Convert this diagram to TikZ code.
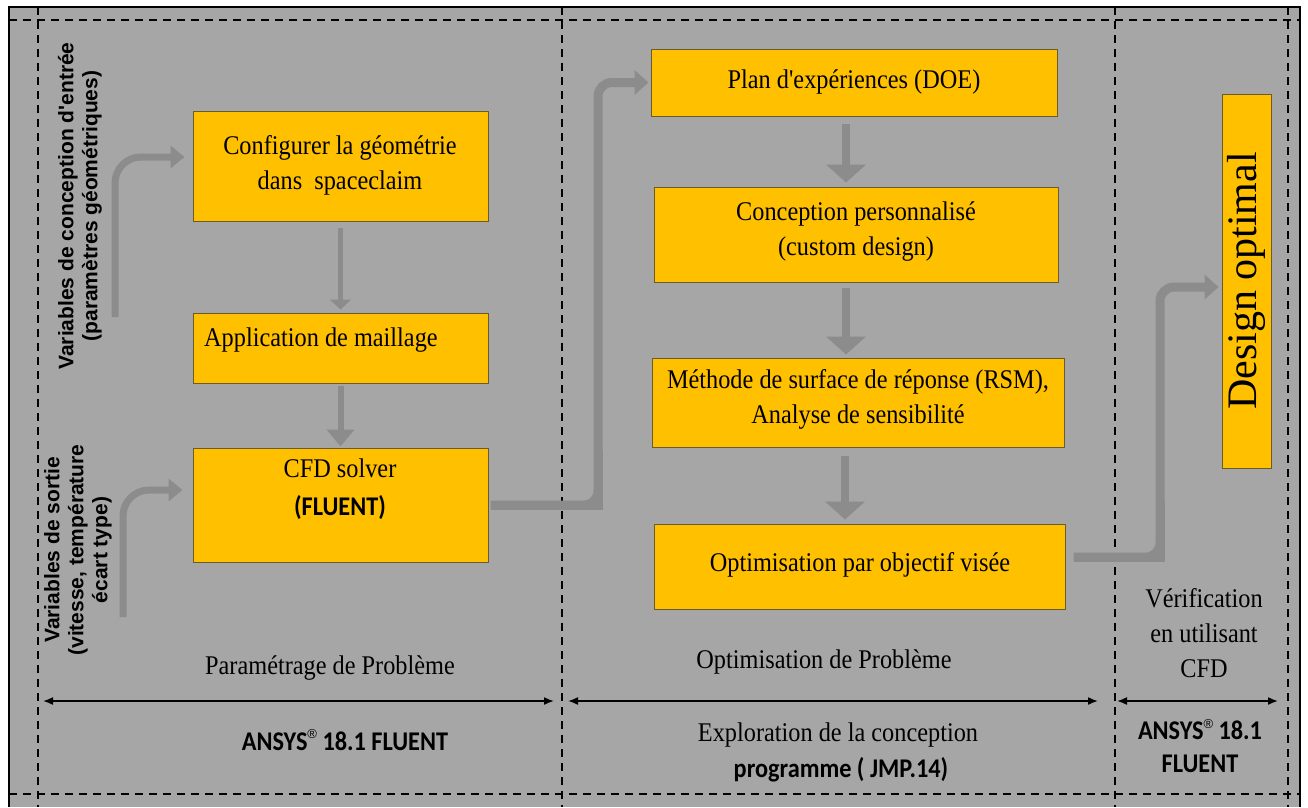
\documentclass[tikz,border=0pt]{standalone}
\usepackage{fontspec}
\usepackage{tikz}
\usetikzlibrary{arrows.meta,calc,positioning}
\setmainfont{Liberation Serif}
\newfontfamily\boxfont[FakeStretch=0.9]{Liberation Serif}
\newfontfamily\calfont[FakeStretch=0.9]{Carlito}
\newfontfamily\arialfont{Liberation Sans}
\definecolor{panelGrey}{HTML}{A6A6A6}
\definecolor{boxOrange}{HTML}{FFC000}
\definecolor{boxEdge}{HTML}{6B5A2A}
\definecolor{flowGrey}{HTML}{8C8C8C}
\newcommand\regmark{\raisebox{0.42em}{\arialfont\mdseries\fontsize{13}{13}\selectfont ®}}

\begin{document}
\begin{tikzpicture}[x=1pt,y=-1pt,
  box/.style={draw=boxEdge,line width=1pt,fill=boxOrange,inner sep=0pt},
  boxtext/.style={font=\boxfont\fontsize{27}{35}\selectfont,align=center,inner sep=0pt},
  caltext/.style={font=\calfont\bfseries\fontsize{27}{33}\selectfont,align=center,inner sep=0pt},
  sidetext/.style={font=\arialfont\bfseries\fontsize{21}{24}\selectfont,align=center,rotate=90,inner sep=0pt},
  frameline/.style={dash pattern=on 8pt off 6pt,line width=2.2pt},
  span/.style={{Latex[length=10pt,width=8pt]}-{Latex[length=10pt,width=8pt]},line width=1.6pt},
  inarrow/.style={draw=flowGrey,line width=7pt,rounded corners=26pt,-{Triangle[width=22pt,length=14pt]}},
  flowline/.style={draw=flowGrey,line width=9pt},
  bigarrow/.style={draw=flowGrey,line width=8pt,-{Triangle[width=39pt,length=18pt]}}
]
\useasboundingbox (0,0) rectangle (1308,807);

% panel and frame
\fill[panelGrey] (9,7) rectangle (1300,807);
\draw[line width=2pt] (9,807) -- (9,7) -- (1300,7) -- (1300,807);
\foreach \xx in {38,562,1115,1288}
\draw[frameline] (\xx,7) -- (\xx,807);
\foreach \yy in {20,794}
\draw[frameline] (9,\yy) -- (1300,\yy);

% draw the boxes
\def\boxes{cfg/193/111/488/221,
           app/193/313/488/383,
           cfd/193/448/488/562,
           doe/651/49/1057/116,
           cus/654/187/1058/282,
           rsm/652/358/1064/447,
           opt/654/524/1065/609,
           dsg/1222/94/1271/468}
\foreach \nm/\xa/\ya/\xb/\yb in \boxes
{
\pgfmathsetmacro\bw{\xb-\xa}
\pgfmathsetmacro\bh{\yb-\ya}
\node[box,minimum width=\bw pt,minimum height=\bh pt] (\nm) at ({(\xa+\xb)/2},{(\ya+\yb)/2}) {};
}

% texts in the boxes
\node[boxtext] (t-cfg) at (340,165) {Configurer la géométrie\\dans\ \ spaceclaim};
\node[boxtext,anchor=west] (t-app) at (204,340) {Application de maillage};
\node[boxtext] (t-cfd) at (340,468) {CFD solver};
\node[caltext] (t-fluent) at (340,508) {(FLUENT)};
\node[boxtext] (t-doe) at (854,82) {Plan d'expériences (DOE)};
\node[boxtext] (t-cus) at (856,232) {Conception personnalisé\\(custom design)};
\node[boxtext] (t-rsm) at (858,399) {Méthode de surface de réponse (RSM),\\Analyse de sensibilité};
\node[boxtext] (t-opt) at (860,565) {Optimisation par objectif visée};
\node[font=\fontsize{42}{42}\selectfont,rotate=90,inner sep=0pt] (t-dsg) at (dsg) {Design optimal};

% side labels
\node[sidetext] (t-in) at (80,206) {Variables de conception d'entrée\\(paramètres géométriques)};
\node[sidetext] (t-out) at (78,550) {Variables de sortie\\(vitesse, température\\écart type)};

% bottom labels
\node[boxtext] (t-param) at (330,668) {Paramétrage de Problème};
\node[caltext] (t-ansysA) at (345,740) {ANSYS\regmark\ 18.1 FLUENT};
\node[boxtext] (t-optpb) at (824,662) {Optimisation de Problème};
\node[boxtext] (t-explo) at (838,735) {Exploration de la conception};
\node[caltext] (t-prog) at (841,770) {programme ( JMP.14)};
\node[boxtext] (t-verif) at (1204,633) {Vérification\\en utilisant\\CFD};
\node[caltext] (t-ansysB) at (1200,746) {ANSYS\regmark\ 18.1\\FLUENT};

% spans
\foreach \a/\b in {43/554,568/1098,1117/1278}
\draw[span] (\a,701) -- (\b,701);

% arrows down the columns
\draw[draw=flowGrey,line width=5pt,-{Triangle[width=21pt,length=10pt]},shorten <=6pt,shorten >=3pt] (cfg) -- (app);
\draw[draw=flowGrey,line width=6pt,-{Triangle[width=27pt,length=17pt]},shorten <=2pt,shorten >=1pt] (app) -- (cfd);
\draw[bigarrow,shorten <=7pt,shorten >=4pt] ([xshift=-8pt]doe.south) -- ([xshift=-8pt]doe.south |- cus.north);
\draw[bigarrow,shorten <=5pt,shorten >=3pt] ([xshift=-10pt]cus.south) -- ([xshift=-10pt]cus.south |- rsm.north);
\draw[bigarrow,shorten <=8pt,shorten >=4pt] ([xshift=-13pt]rsm.south) -- ([xshift=-13pt]rsm.south |- opt.north);

% inputs
\coordinate (in1) at (115,317);
\coordinate (in2) at (123,617);
\draw[inarrow,shorten >=8pt] (in1) |- ([yshift=9pt]cfg.west);
\draw[inarrow,shorten >=10pt] (in2) |- ([yshift=15pt]cfd.west);

% connectors between the stages (rounded path, then a sharp lower corner over it)
\coordinate (c1) at (598,505);
\coordinate (c2) at (598,450);
\draw[flowline,rounded corners=14pt,-{Triangle[width=24pt,length=14pt]},shorten <=2pt,shorten >=2pt] (cfd.east) -- (c1) |- (doe.west);
\draw[flowline,shorten <=2pt] (cfd.east) -- (c1) -- (c2);
\coordinate (o2) at (1160,557);
\coordinate (o3) at (1160,287);
\coordinate (o4) at (1160,500);
\draw[flowline,rounded corners=14pt,-{Triangle[width=24pt,length=14pt]},shorten <=8pt,shorten >=3pt] (opt.east |- o2) -- (o2) -- (o3) -- (dsg.west |- o3);
\draw[flowline,shorten <=8pt] (opt.east |- o2) -- (o2) -- (o4);

\end{tikzpicture}
\end{document}
